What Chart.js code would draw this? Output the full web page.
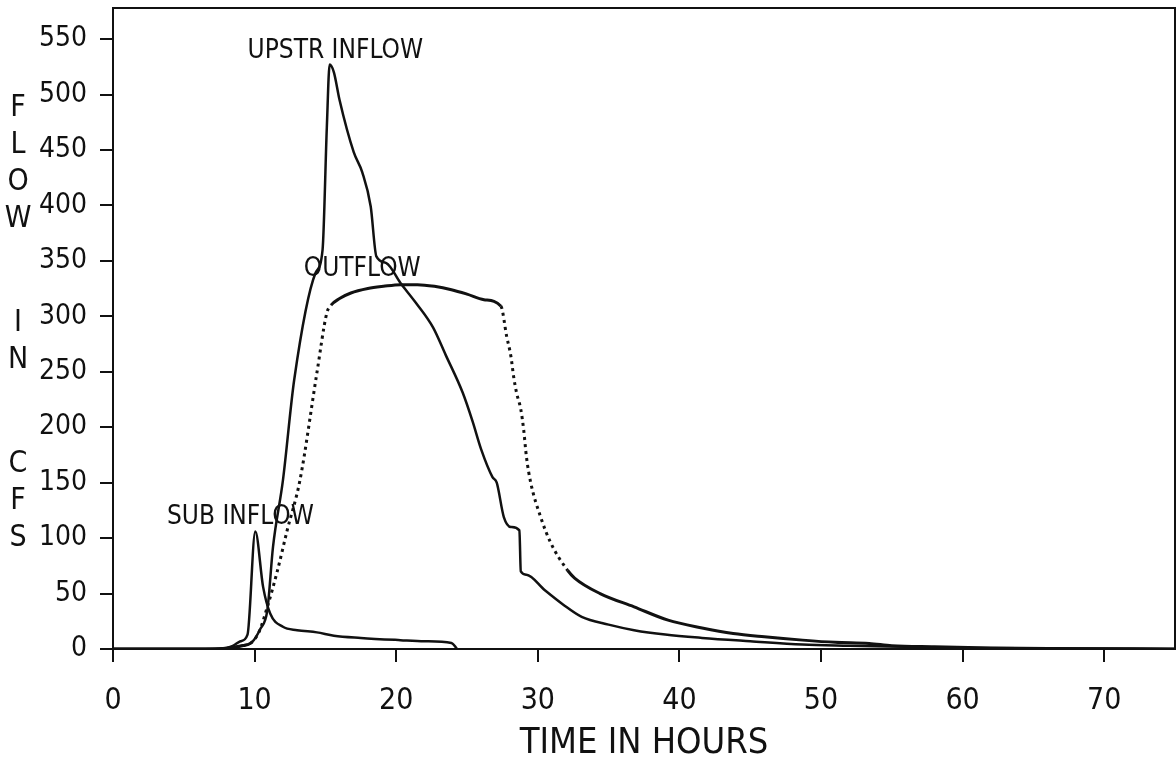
<!DOCTYPE html>
<html>
<head>
<meta charset="utf-8">
<script src="https://cdn.jsdelivr.net/npm/chart.js@4/dist/chart.umd.min.js"></script>
<style>
  html, body { margin: 0; padding: 0; background: #fff; }
  #wrap { width: 1176px; height: 767px; }
</style>
</head>
<body>
<div id="wrap"><canvas id="flowChart" width="1176" height="767"></canvas></div>
<script>
// upstream inflow hydrograph (hours, cfs)
const upTime = [0, 6.5, 8.0, 9.0, 9.8, 10.4, 10.9, 11.3, 12.0, 12.8, 14.3, 14.8, 15.1, 15.3, 15.6, 16.0, 17.0, 17.6, 18.2, 18.6, 19.3, 20.3, 21.4, 22.6, 23.5, 24.7, 25.4, 26.0, 26.8, 27.1, 27.6, 28.1, 28.7, 28.8, 29.2, 30.5, 31.8, 33.1, 35.0, 36.8, 39.0, 41.6, 45.0, 48.7, 52, 56, 60, 65, 75];
const upFlow = [0, 0, 1, 3, 6, 18, 35, 92, 152, 243, 339, 360, 470, 527, 520, 495, 448, 430, 399, 354, 348, 330, 312, 290, 265, 231, 205, 180, 155, 150, 119, 110, 107, 70, 67, 53, 40, 29, 22, 17, 13, 10, 7, 4, 3, 2, 1, 0.5, 0];

// outflow hydrograph
const outTime = [0, 7.5, 8.5, 9.2, 9.7, 10.3, 10.9, 11.6, 12.3, 13.2, 14.4, 15.1, 15.4, 16.0, 16.8, 18.0, 19.1, 20.3, 21.5, 22.7, 23.9, 25.0, 26.2, 27.4, 27.8, 28.1, 28.3, 28.5, 28.8, 29.0, 29.2, 29.5, 30.2, 30.9, 32.1, 32.6, 34.4, 36.8, 39.2, 41.6, 43.8, 46.0, 48.7, 51, 53.4, 55, 58, 62, 66, 75];
const outFlow = [0, 0, 1, 3, 5, 15, 38, 70, 107, 152, 249, 303, 310, 316, 321, 325, 327, 328.5, 328.5, 327, 324, 320, 315, 309, 282, 264, 245, 231, 216, 198, 173, 150, 119, 96, 71, 64, 50, 38, 26, 19, 14, 11, 8, 6, 5, 3, 2, 1, 0.5, 0];

// sub-area inflow
const subTime = [0, 7.0, 8.0, 8.5, 9.0, 9.5, 10.05, 10.6, 11.1, 12.0, 13.0, 14.4, 15.6, 17.5, 20.3, 22.0, 23.9, 24.3];
const subFlow = [0, 0, 1, 3, 7, 13, 106, 56, 32, 20, 17, 15, 12, 10, 8, 7, 5.5, 0];

const xTicks = [0, 10, 20, 30, 40, 50, 60, 70];
const yTicks = [0, 50, 100, 150, 200, 250, 300, 350, 400, 450, 500, 550];

const curveLabels = [
  { text: 'UPSTR INFLOW', x: 15.7, y: 539 },
  { text: 'OUTFLOW', x: 17.6, y: 342 },
  { text: 'SUB INFLOW', x: 9.0, y: 119 }
];
const yTitle = ['F', 'L', 'O', 'W', '', 'I', 'N', '', 'C', 'F', 'S'];

const FONT = "'Liberation Sans Narrow', 'DejaVu Sans Condensed', 'Roboto Condensed', sans-serif";

function pts(t, f) {
  return t.map((v, i) => ({ x: v, y: f[i] }));
}

// box round the plot, labels on the curves, stacked y title
const extras = {
  id: 'extras',
  afterDraw(chart) {
    const { ctx, chartArea: a, scales } = chart;
    ctx.save();
    ctx.strokeStyle = '#111';
    ctx.lineWidth = 2;
    ctx.beginPath();
    ctx.moveTo(a.left, a.top);
    ctx.lineTo(a.right, a.top);
    ctx.lineTo(a.right, a.bottom);
    ctx.stroke();

    ctx.fillStyle = '#111';
    ctx.font = '26px ' + FONT;
    ctx.textAlign = 'center';
    ctx.textBaseline = 'middle';
    curveLabels.forEach(l => {
      ctx.fillText(l.text, scales.x.getPixelForValue(l.x), scales.y.getPixelForValue(l.y));
    });

    ctx.font = '30px ' + FONT;
    let y = 108;
    yTitle.forEach(ch => {
      if (ch === '') { y += 67; return; }
      ctx.fillText(ch, 18, y);
      y += 37;
    });
    ctx.restore();
  }
};

const steep = c => Math.abs(c.p1.y - c.p0.y) > Math.abs(c.p1.x - c.p0.x) * 1.2;

new Chart(document.getElementById('flowChart'), {
  type: 'line',
  data: {
    datasets: [
      {
        label: 'UPSTR INFLOW',
        data: pts(upTime, upFlow),
        borderColor: '#111',
        borderWidth: 2.5,
        cubicInterpolationMode: 'monotone'
      },
      {
        label: 'OUTFLOW',
        data: pts(outTime, outFlow),
        borderColor: '#111',
        borderWidth: 3,
        cubicInterpolationMode: 'monotone',
        segment: { borderDash: c => steep(c) ? [3, 4] : [] }
      },
      {
        label: 'SUB INFLOW',
        data: pts(subTime, subFlow),
        borderColor: '#111',
        borderWidth: 2.5,
        cubicInterpolationMode: 'monotone'
      }
    ]
  },
  options: {
    responsive: false,
    animation: false,
    elements: { point: { radius: 0 } },
    layout: { padding: { top: 8, right: 1, left: 0, bottom: 0 } },
    plugins: { legend: { display: false }, tooltip: { enabled: false } },
    scales: {
      x: {
        type: 'linear',
        min: 0,
        max: 75,
        afterBuildTicks: s => { s.ticks = xTicks.map(v => ({ value: v })); },
        afterFit: s => { s.height = 118; s.paddingLeft = 0; s.paddingRight = 0; },
        ticks: { color: '#111', font: { family: FONT, size: 30 }, padding: 21, maxRotation: 0 },
        grid: { drawOnChartArea: false, color: '#111', lineWidth: 2, tickLength: 13 },
        border: { color: '#111', width: 2 },
        title: { display: true, text: 'TIME IN HOURS', color: '#111', font: { family: FONT, size: 36 }, padding: { top: 0, bottom: 2 } }
      },
      y: {
        min: 0,
        max: 578,
        afterBuildTicks: s => { s.ticks = yTicks.map(v => ({ value: v })); },
        afterFit: s => { s.width = 113; s.paddingTop = 0; s.paddingBottom = 0; },
        ticks: { color: '#111', font: { family: FONT, size: 28 }, padding: 13 },
        grid: { drawOnChartArea: false, color: '#111', lineWidth: 2, tickLength: 13 },
        border: { color: '#111', width: 2 }
      }
    }
  },
  plugins: [extras]
});
</script>
</body>
</html>
